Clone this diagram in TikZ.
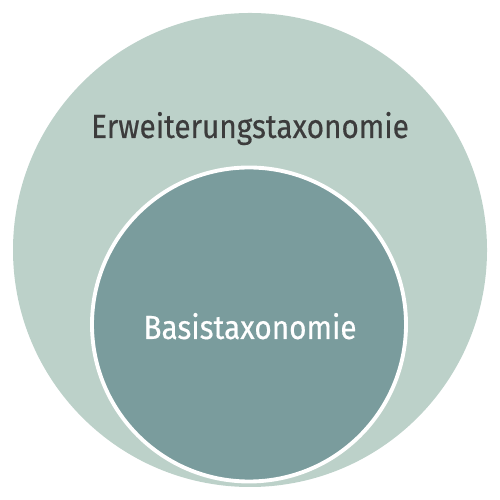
\documentclass[tikz,border=0pt]{standalone}
\usepackage{fontspec}
\setmainfont{Fira Sans}[FakeStretch=0.89, FakeBold=0.4]
\definecolor{outerc}{HTML}{BCD1C9}
\definecolor{innerc}{HTML}{7A9C9D}
\definecolor{textdark}{HTML}{3C3C3C}
\begin{document}
\begin{tikzpicture}
\useasboundingbox (0,0) rectangle (10,10);
\tikzset{
  outerset/.style={circle, fill=outerc, minimum size=9.48cm, inner sep=0pt},
  innerset/.style={circle, fill=innerc, draw=white, line width=2.2pt, minimum size=6.28cm, inner sep=0pt},
  lbl/.style={anchor=base, font=\fontsize{19}{22}\selectfont}
}
\node[outerset] (outer) at (5,5) {};
\node[innerset] (inner) at (4.98,3.51) {};
\node[lbl, text=textdark] (ext) at (5.0,7.24) {Erweiterungstaxonomie};
\node[lbl, text=white] (basis) at (5.0,3.22) {Basistaxonomie};
\end{tikzpicture}
\end{document}
